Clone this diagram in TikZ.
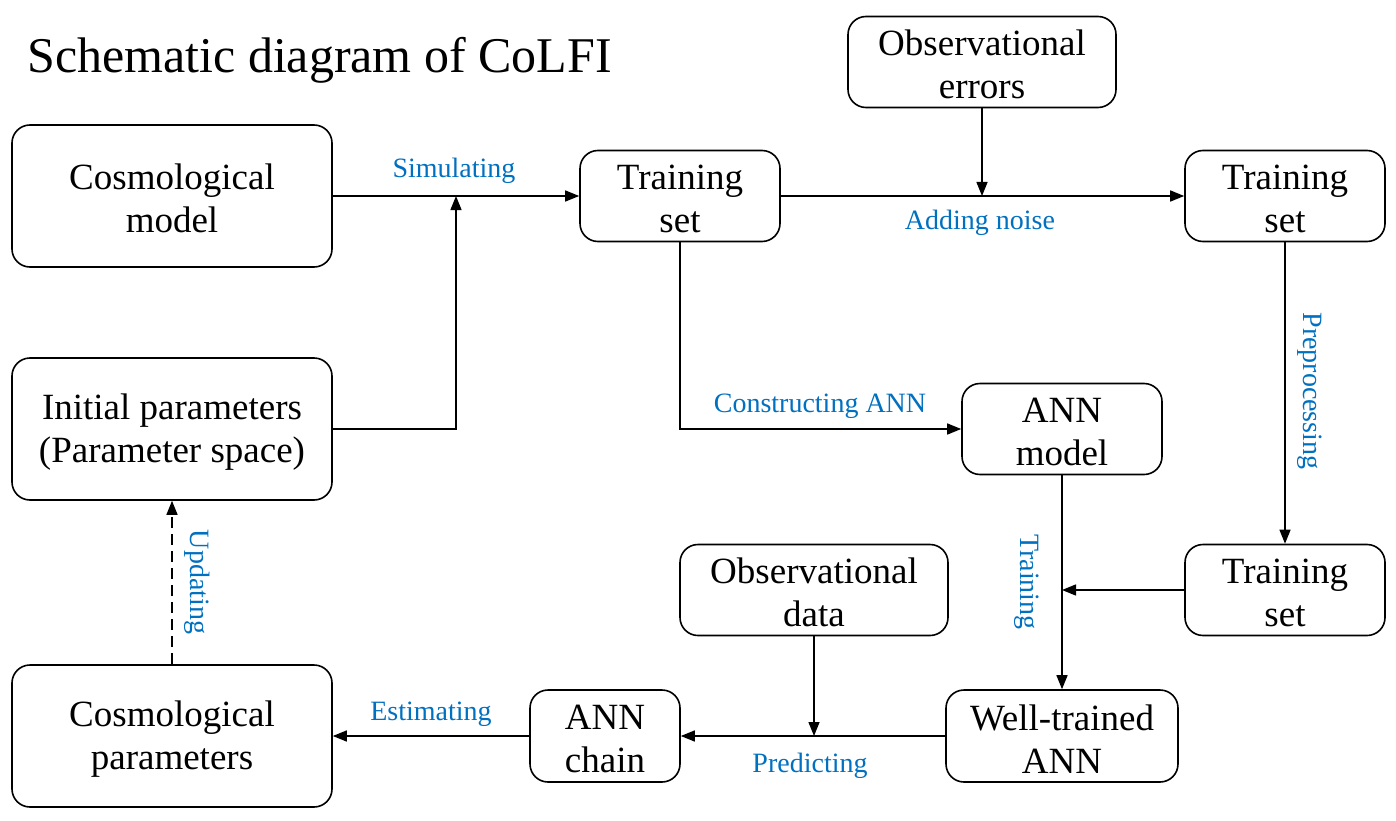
\documentclass[tikz,border=0pt]{standalone}
\usepackage{fontspec}
\setmainfont{Liberation Serif}
\usetikzlibrary{arrows.meta}
\definecolor{lblue}{HTML}{0070C0}
\newcommand{\tstrut}{\rule{0pt}{31pt}}
\begin{document}
\begin{tikzpicture}[x=1pt,y=-1pt,
  box/.style={draw,line width=1.6pt,rounded corners=18pt,align=center,inner sep=0pt,
    font=\fontsize{37}{43}\selectfont},
  conn/.style={line width=1.4pt,-{Triangle[length=14pt,width=11pt]}},
  lbl/.style={text=lblue,font=\fontsize{28}{32}\selectfont,inner sep=0pt}]
\useasboundingbox (0,0) rectangle (1396,821);
\node[font=\fontsize{50}{56}\selectfont,anchor=west,inner sep=0pt] (title) at (27,60) {Schematic diagram of CoLFI};
\node[box,minimum width=320pt,minimum height=142pt] (cm) at (172,196) {\tstrut Cosmological\\model};
\node[box,minimum width=320pt,minimum height=142pt] (ip) at (172,429) {\tstrut Initial parameters\\(Parameter space)};
\node[box,minimum width=320pt,minimum height=142pt] (cp) at (172,736) {\tstrut Cosmological\\parameters};
\node[box,minimum width=200pt,minimum height=91pt] (ts1) at (680,196) {\tstrut Training\\set};
\node[box,minimum width=268pt,minimum height=91pt] (oe) at (982,62) {\tstrut Observational\\errors};
\node[box,minimum width=200pt,minimum height=91pt] (ts2) at (1285,196) {\tstrut Training\\set};
\node[box,minimum width=200pt,minimum height=91pt] (ann) at (1062,429) {\tstrut ANN\\model};
\node[box,minimum width=200pt,minimum height=91pt] (ts3) at (1285,590) {\tstrut Training\\set};
\node[box,minimum width=268pt,minimum height=91pt] (od) at (814,590) {\tstrut Observational\\data};
\node[box,minimum width=232pt,minimum height=92pt] (wt) at (1062,736) {\tstrut Well-trained\\ANN};
\node[box,minimum width=150pt,minimum height=92pt] (ac) at (605,736) {\tstrut ANN\\chain};
\coordinate (j1) at (456,196);
\coordinate (j2) at (982,196);
\coordinate (j3) at (1062,590);
\coordinate (j4) at (814,736);
\draw[conn] (cm.east) -- (ts1.west);
\draw[conn] (ip.east) -| (j1);
\draw[conn] (oe.south) -- (j2);
\draw[conn] (ts1.east) -- (ts2.west);
\draw[conn] (ts1.south) |- (ann.west);
\draw[conn] (ts2.south) -- (ts3.north);
\draw[conn] (ann.south) -- (wt.north);
\draw[conn] (ts3.west) -- (j3);
\draw[conn] (wt.west) -- (ac.east);
\draw[conn] (od.south) -- (j4);
\draw[conn] (ac.west) -- (cp.east);
\draw[conn,dashed,dash pattern=on 11pt off 6pt] (cp.north) -- (ip.south);
\node[lbl] (l1) at (454,171) {Simulating};
\node[lbl] (l2) at (980,223) {Adding noise};
\node[lbl] (l3) at (820,406) {Constructing ANN};
\node[lbl,rotate=-90] (l4) at (1310,391) {Preprocessing};
\node[lbl,rotate=-90] (l5) at (1027,582) {Training};
\node[lbl] (l6) at (810,766) {Predicting};
\node[lbl] (l7) at (431,714) {Estimating};
\node[lbl,rotate=-90] (l8) at (197,582) {Updating};
\end{tikzpicture}
\end{document}
